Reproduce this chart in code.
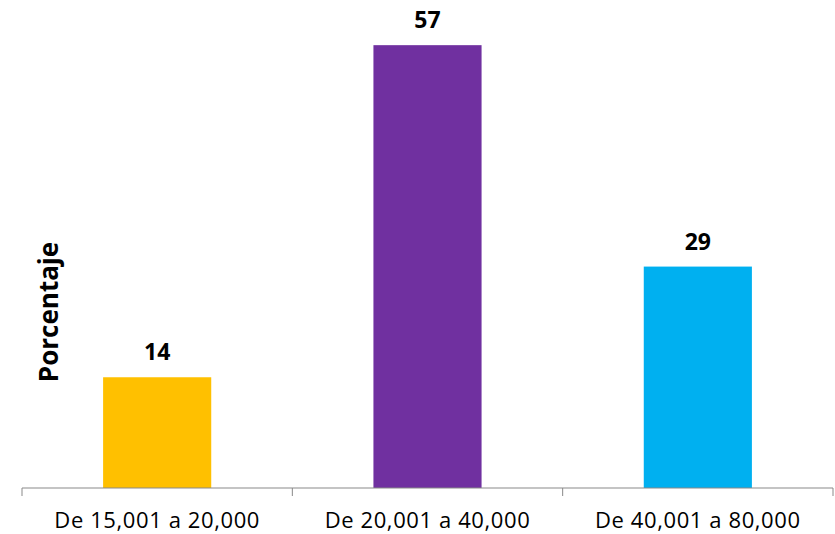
<!DOCTYPE html>
<html>
<head>
<meta charset="utf-8">
<script src="https://cdn.jsdelivr.net/npm/d3@7"></script>
<style>
  body { margin: 0; background: #fff; }
  text { font-family: "Open Sans", "Noto Sans", sans-serif; }
</style>
</head>
<body>
<div id="chart"></div>
<script>
const categories = ["De 15,001 a 20,000", "De 20,001 a 40,000", "De 40,001 a 80,000"];
const values = [14.29, 57.14, 28.57];
const colors = ["#FFC000", "#7030A0", "#00B0F0"];
const yTitle = "Porcentaje";

const width = 835;
const height = 534;
const margin = { top: 23, right: 2, bottom: 46, left: 22 };

const svg = d3
  .select("#chart")
  .append("svg")
  .attr("width", width)
  .attr("height", height);

const x = d3
  .scaleBand()
  .domain(categories)
  .range([margin.left, width - margin.right])
  .paddingInner(0.6)
  .paddingOuter(0.3);

const y = d3
  .scaleLinear()
  .domain([0, 60])
  .range([height - margin.bottom, margin.top]);

// bars
svg
  .selectAll(".bar")
  .data(values)
  .join("rect")
  .attr("class", "bar")
  .attr("x", (d, i) => x(categories[i]))
  .attr("y", (d) => y(d))
  .attr("width", x.bandwidth())
  .attr("height", (d) => y(0) - y(d))
  .attr("fill", (d, i) => colors[i]);

// value labels
svg
  .selectAll(".val")
  .data(values)
  .join("text")
  .attr("class", "val")
  .attr("x", (d, i) => x(categories[i]) + x.bandwidth() / 2)
  .attr("y", (d) => y(d) - 17)
  .attr("text-anchor", "middle")
  .style("font-size", "23px")
  .style("font-weight", "bold")
  .style("fill", "#000")
  .text((d) => d3.format(".0f")(d));

// x axis, ticks on category boundaries
const xAxisG = svg.append("g").attr("transform", `translate(0,${y(0)})`);
const edges = d3.range(categories.length + 1).map((i) => margin.left + i * (width - margin.left - margin.right) / categories.length);

xAxisG
  .append("line")
  .attr("x1", edges[0])
  .attr("x2", edges[edges.length - 1])
  .attr("stroke", "#898989")
  .attr("stroke-width", 1);

xAxisG
  .selectAll(".tick")
  .data(edges)
  .join("line")
  .attr("class", "tick")
  .attr("x1", (d) => d)
  .attr("x2", (d) => d)
  .attr("y1", 0)
  .attr("y2", 8)
  .attr("stroke", "#898989");

xAxisG
  .selectAll(".lbl")
  .data(categories)
  .join("text")
  .attr("class", "lbl")
  .attr("x", (d) => x(d) + x.bandwidth() / 2)
  .attr("y", 40)
  .attr("text-anchor", "middle")
  .style("font-size", "22px")
  .style("letter-spacing", "0.6px")
  .style("fill", "#000")
  .text((d) => d);

// y title
svg
  .append("text")
  .attr("transform", `translate(58,312) rotate(-90)`)
  .attr("text-anchor", "middle")
  .style("font-size", "26px")
  .style("font-weight", "bold")
  .text(yTitle);
</script>
</body>
</html>
